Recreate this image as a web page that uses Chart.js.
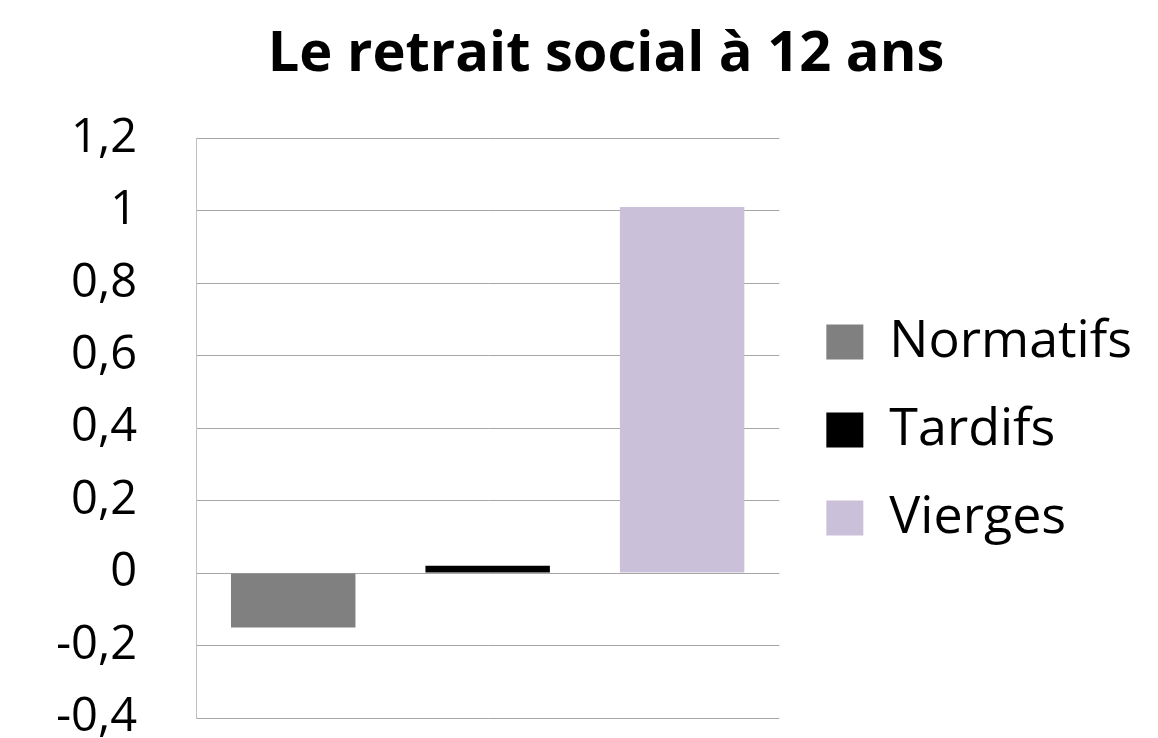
<!DOCTYPE html>
<html>
<head>
<meta charset="utf-8">
<script src="https://cdn.jsdelivr.net/npm/chart.js@4.4.1/dist/chart.umd.min.js"></script>
<style>
    html, body { margin: 0; padding: 0; background: #ffffff; }
    #wrap { width: 1158px; height: 738px; }
</style>
</head>
<body>
<div id="wrap"><canvas id="chart"></canvas></div>
<script>
// Chart data
const title = 'Le retrait social à 12 ans';
const categories = [''];
const seriesNames = ['Normatifs', 'Tardifs', 'Vierges'];
const seriesValues = [[-0.15], [0.02], [1.01]];
const seriesColors = ['#808080', '#000000', '#cbc0d9'];
const yTicks = [-0.4, -0.2, 0, 0.2, 0.4, 0.6, 0.8, 1, 1.2];

const FONT = '"Open Sans", "Noto Sans", sans-serif';

// Extra room between plot and legend, and shift of the legend items
const LEGEND_EXTRA_WIDTH = 23;
const LEGEND_SHIFT_X = 11;
const LEGEND_SHIFT_Y = 71;

// Format ticks with a comma decimal separator
function formatTick(value) {
    const v = Math.round(value * 10) / 10;
    return v.toString().replace('.', ',');
}

// Widen the legend box and move its items, so the gap to the plot matches
const legendGap = {
    id: 'legendGap',
    beforeInit(chart) {
        const legend = chart.legend;
        if (!legend) return;
        const fit = legend.fit;
        legend.fit = function() {
            fit.call(this);
            this.width += LEGEND_EXTRA_WIDTH;
        };
        const draw = legend.draw;
        legend.draw = function() {
            this.ctx.save();
            this.ctx.translate(LEGEND_SHIFT_X, LEGEND_SHIFT_Y);
            draw.apply(this, arguments);
            this.ctx.restore();
        };
    }
};

const datasets = seriesNames.map((name, i) => ({
    label: name,
    data: seriesValues[i],
    backgroundColor: seriesColors[i],
    borderWidth: 0,
    categoryPercentage: 1.0,
    barPercentage: 0.64
}));

new Chart(document.getElementById('chart'), {
    type: 'bar',
    data: {
        labels: categories,
        datasets: datasets
    },
    plugins: [legendGap],
    options: {
        responsive: true,
        maintainAspectRatio: false,
        animation: false,
        layout: {
            padding: { left: 58, right: 4, top: 0, bottom: 20 }
        },
        plugins: {
            title: {
                display: true,
                text: title,
                color: '#000000',
                font: { family: FONT, size: 56, weight: 'bold' },
                padding: { top: 21, bottom: 50 }
            },
            legend: {
                position: 'right',
                align: 'center',
                maxWidth: 440,
                labels: {
                    color: '#000000',
                    font: { family: FONT, size: 52 },
                    boxWidth: 37,
                    boxHeight: 35,
                    padding: 36
                }
            },
            tooltip: { enabled: false }
        },
        scales: {
            x: {
                display: false
            },
            y: {
                min: -0.4,
                max: 1.2,
                afterBuildTicks: axis => {
                    axis.ticks = yTicks.map(v => ({ value: v }));
                },
                // fixed axis width; no extra vertical padding from tick padding
                afterFit: axis => {
                    axis.width = 138;
                    axis.paddingTop = 0;
                    axis.paddingBottom = 0;
                },
                ticks: {
                    color: '#000000',
                    font: { family: FONT, size: 47 },
                    padding: 59,
                    callback: formatTick
                },
                grid: {
                    color: '#a6a6a6',
                    lineWidth: 1,
                    drawTicks: false
                },
                border: { display: true, color: '#bfbfbf', width: 1 }
            }
        }
    }
});
</script>
</body>
</html>
